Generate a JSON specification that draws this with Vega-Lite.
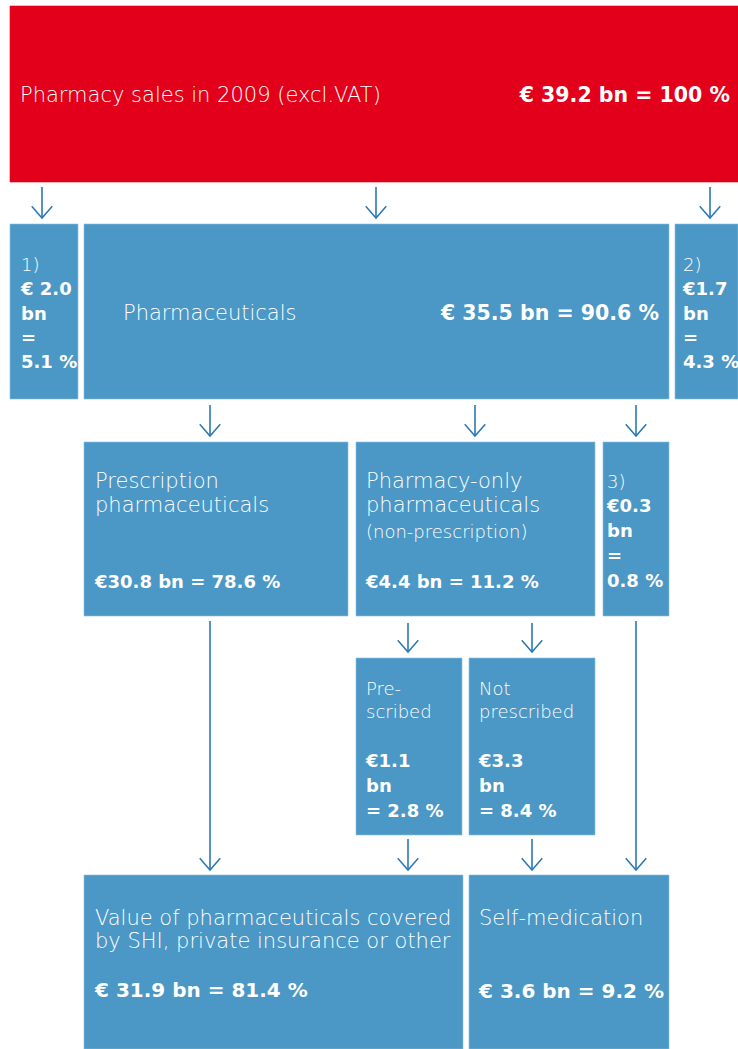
{
  "$schema": "https://vega.github.io/schema/vega-lite/v6.json",
  "width": 738,
  "height": 1049,
  "padding": 0,
  "autosize": {"type": "none"},
  "background": "white",
  "config": {"view": {"stroke": null}},
  "datasets": {
    "boxes": [
      {"box": "Pharmacy sales", "level": "total", "x": 10, "x2": 738, "y": 6, "y2": 182},
      {"box": "1)", "level": "part", "x": 10, "x2": 78, "y": 224, "y2": 399},
      {"box": "Pharmaceuticals", "level": "part", "x": 84, "x2": 669, "y": 224, "y2": 399},
      {"box": "2)", "level": "part", "x": 675, "x2": 738, "y": 224, "y2": 399},
      {"box": "Prescription pharmaceuticals", "level": "part", "x": 84, "x2": 348, "y": 442, "y2": 616},
      {"box": "Pharmacy-only pharmaceuticals", "level": "part", "x": 356, "x2": 595, "y": 442, "y2": 616},
      {"box": "3)", "level": "part", "x": 603, "x2": 669, "y": 442, "y2": 616},
      {"box": "Prescribed", "level": "part", "x": 356, "x2": 462, "y": 658, "y2": 835},
      {"box": "Not prescribed", "level": "part", "x": 469, "x2": 595, "y": 658, "y2": 835},
      {"box": "Covered by SHI, private insurance or other", "level": "part", "x": 84, "x2": 463, "y": 875, "y2": 1049},
      {"box": "Self-medication", "level": "part", "x": 469, "x2": 669, "y": 875, "y2": 1049}
    ],
    "arrows": [
      {"x": 42, "y": 187, "y2": 218},
      {"x": 376, "y": 187, "y2": 218},
      {"x": 710, "y": 187, "y2": 218},
      {"x": 210, "y": 405, "y2": 436},
      {"x": 475, "y": 405, "y2": 436},
      {"x": 636, "y": 405, "y2": 436},
      {"x": 210, "y": 621, "y2": 870},
      {"x": 636, "y": 621, "y2": 870},
      {"x": 408, "y": 623, "y2": 652},
      {"x": 532, "y": 623, "y2": 652},
      {"x": 408, "y": 839, "y2": 870},
      {"x": 532, "y": 839, "y2": 870}
    ],
    "labels": [
      {"text": "Pharmacy sales in 2009 (excl.VAT)", "x": 20, "y": 102, "role": "name"},
      {"text": "€ 39.2 bn = 100 %", "x": 730, "y": 102, "role": "valueR"},
      {"text": "1)", "x": 21, "y": 271, "role": "small"},
      {"text": "€ 2.0", "x": 21, "y": 295, "role": "valueS"},
      {"text": "bn", "x": 21, "y": 320, "role": "valueS"},
      {"text": "=", "x": 21, "y": 344, "role": "valueS"},
      {"text": "5.1 %", "x": 21, "y": 368, "role": "valueS"},
      {"text": "Pharmaceuticals", "x": 123, "y": 320, "role": "name"},
      {"text": "€ 35.5 bn = 90.6 %", "x": 659, "y": 320, "role": "valueR"},
      {"text": "2)", "x": 683, "y": 271, "role": "small"},
      {"text": "€1.7", "x": 683, "y": 295, "role": "valueS"},
      {"text": "bn", "x": 683, "y": 320, "role": "valueS"},
      {"text": "=", "x": 683, "y": 344, "role": "valueS"},
      {"text": "4.3 %", "x": 683, "y": 368, "role": "valueS"},
      {"text": "Prescription", "x": 95, "y": 488, "role": "name"},
      {"text": "pharmaceuticals", "x": 95, "y": 512, "role": "name"},
      {"text": "€30.8 bn = 78.6 %", "x": 95, "y": 588, "role": "valueS"},
      {"text": "Pharmacy-only", "x": 366, "y": 488, "role": "name"},
      {"text": "pharmaceuticals", "x": 366, "y": 512, "role": "name"},
      {"text": "(non-prescription)", "x": 366, "y": 538, "role": "small"},
      {"text": "€4.4 bn = 11.2 %", "x": 366, "y": 588, "role": "valueS"},
      {"text": "3)", "x": 607, "y": 488, "role": "small"},
      {"text": "€0.3", "x": 607, "y": 512, "role": "valueS"},
      {"text": "bn", "x": 607, "y": 537, "role": "valueS"},
      {"text": "=", "x": 607, "y": 562, "role": "valueS"},
      {"text": "0.8 %", "x": 607, "y": 587, "role": "valueS"},
      {"text": "Pre-", "x": 366, "y": 695, "role": "small"},
      {"text": "scribed", "x": 366, "y": 718, "role": "small"},
      {"text": "€1.1", "x": 366, "y": 767, "role": "valueS"},
      {"text": "bn", "x": 366, "y": 792, "role": "valueS"},
      {"text": "= 2.8 %", "x": 366, "y": 817, "role": "valueS"},
      {"text": "Not", "x": 479, "y": 695, "role": "small"},
      {"text": "prescribed", "x": 479, "y": 718, "role": "small"},
      {"text": "€3.3", "x": 479, "y": 767, "role": "valueS"},
      {"text": "bn", "x": 479, "y": 792, "role": "valueS"},
      {"text": "= 8.4 %", "x": 479, "y": 817, "role": "valueS"},
      {"text": "Value of pharmaceuticals covered", "x": 95, "y": 925, "role": "name"},
      {"text": "by SHI, private insurance or other", "x": 95, "y": 948, "role": "name"},
      {"text": "€ 31.9 bn = 81.4 %", "x": 95, "y": 997, "role": "value"},
      {"text": "Self-medication", "x": 479, "y": 925, "role": "name"},
      {"text": "€ 3.6 bn = 9.2 %", "x": 479, "y": 998, "role": "value"}
    ]
  },
  "layer": [
    {
      "data": {"name": "boxes"},
      "mark": {"type": "rect", "strokeWidth": 0.6},
      "encoding": {
        "x": {"field": "x", "type": "quantitative", "scale": {"domain": [0, 738], "nice": false, "zero": false}, "axis": null},
        "x2": {"field": "x2"},
        "y": {"field": "y", "type": "quantitative", "scale": {"domain": [0, 1049], "nice": false, "zero": false, "reverse": true}, "axis": null},
        "y2": {"field": "y2"},
        "fill": {"field": "level", "type": "nominal", "scale": {"domain": ["total", "part"], "range": ["#E2001A", "#4B97C5"]}, "legend": null},
        "stroke": {"field": "level", "type": "nominal", "scale": {"domain": ["total", "part"], "range": ["#E2001A", "#8cbfe0"]}, "legend": null}
      }
    },
    {
      "data": {"name": "arrows"},
      "mark": {"type": "rule", "color": "#2a78b6", "strokeWidth": 1.6},
      "encoding": {
        "x": {"field": "x", "type": "quantitative", "axis": null},
        "y": {"field": "y", "type": "quantitative", "axis": null},
        "y2": {"field": "y2"}
      }
    },
    {
      "data": {"name": "arrows"},
      "mark": {"type": "point", "shape": "M-1,-1.15L0,0L1,-1.15", "filled": false, "size": 420, "stroke": "#2a78b6", "strokeWidth": 1.5, "opacity": 1},
      "encoding": {
        "x": {"field": "x", "type": "quantitative", "axis": null},
        "y": {"field": "y2", "type": "quantitative", "axis": null}
      }
    },
    {
      "data": {"name": "labels"},
      "transform": [{"filter": "datum.role == 'name'"}],
      "mark": {"type": "text", "font": "DejaVu Sans", "fontSize": 21, "fontWeight": 300, "align": "left", "baseline": "alphabetic", "color": "white"},
      "encoding": {
        "x": {"field": "x", "type": "quantitative", "axis": null},
        "y": {"field": "y", "type": "quantitative", "axis": null},
        "text": {"field": "text"}
      }
    },
    {
      "data": {"name": "labels"},
      "transform": [{"filter": "datum.role == 'small'"}],
      "mark": {"type": "text", "font": "DejaVu Sans", "fontSize": 18, "fontWeight": 300, "align": "left", "baseline": "alphabetic", "color": "white"},
      "encoding": {
        "x": {"field": "x", "type": "quantitative", "axis": null},
        "y": {"field": "y", "type": "quantitative", "axis": null},
        "text": {"field": "text"}
      }
    },
    {
      "data": {"name": "labels"},
      "transform": [{"filter": "datum.role == 'value'"}],
      "mark": {"type": "text", "font": "DejaVu Sans", "fontSize": 20, "fontWeight": "bold", "align": "left", "baseline": "alphabetic", "color": "white"},
      "encoding": {
        "x": {"field": "x", "type": "quantitative", "axis": null},
        "y": {"field": "y", "type": "quantitative", "axis": null},
        "text": {"field": "text"}
      }
    },
    {
      "data": {"name": "labels"},
      "transform": [{"filter": "datum.role == 'valueR'"}],
      "mark": {"type": "text", "font": "DejaVu Sans", "fontSize": 20.5, "fontWeight": "bold", "align": "right", "baseline": "alphabetic", "color": "white"},
      "encoding": {
        "x": {"field": "x", "type": "quantitative", "axis": null},
        "y": {"field": "y", "type": "quantitative", "axis": null},
        "text": {"field": "text"}
      }
    },
    {
      "data": {"name": "labels"},
      "transform": [{"filter": "datum.role == 'valueS'"}],
      "mark": {"type": "text", "font": "DejaVu Sans", "fontSize": 18, "fontWeight": "bold", "align": "left", "baseline": "alphabetic", "color": "white"},
      "encoding": {
        "x": {"field": "x", "type": "quantitative", "axis": null},
        "y": {"field": "y", "type": "quantitative", "axis": null},
        "text": {"field": "text"}
      }
    }
  ]
}
